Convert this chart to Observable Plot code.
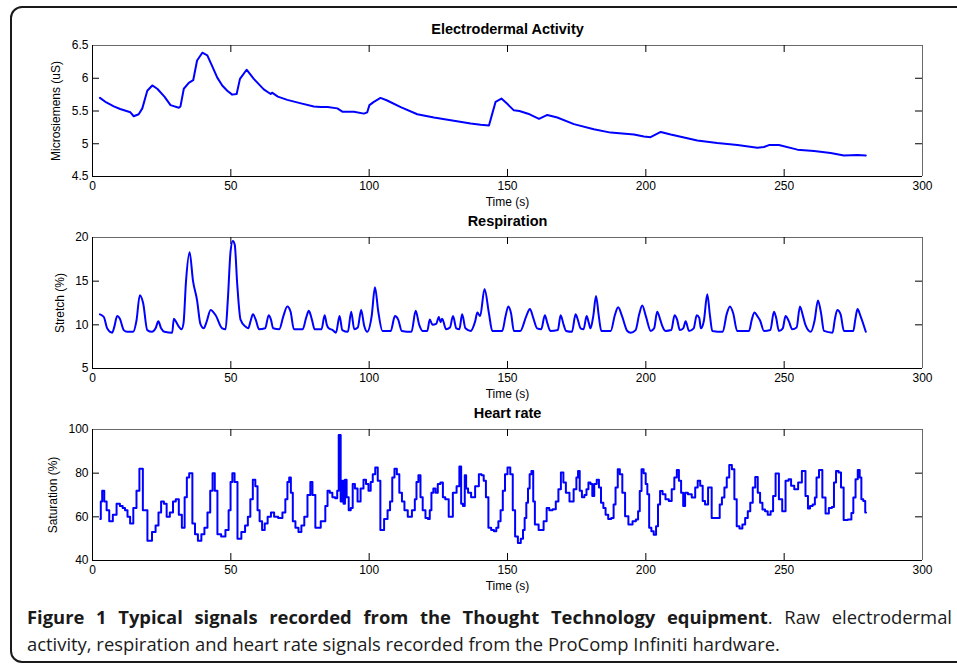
<!DOCTYPE html>
<html>
<head>
<meta charset="utf-8">
<script src="https://cdn.jsdelivr.net/npm/d3@7"></script>
<script src="https://cdn.jsdelivr.net/npm/@observablehq/plot@0.6"></script>
<style>
  html, body { margin: 0; padding: 0; background: #fff; width: 957px; height: 664px; overflow: hidden; }
  body { position: relative; }
  #frame { position: absolute; left: 10px; top: 6px; width: 970px; height: 657px; box-sizing: border-box;
           border: 2px solid #1a1a1a; border-radius: 12px; }
  .panel { position: absolute; left: 0; }
  .cap { position: absolute; left: 27px; font-family: "Open Sans", sans-serif; font-size: 18.4px;
         line-height: 27px; color: #1a1a1a; white-space: nowrap; }
  #cap1 { top: 603px; width: 925px; text-align: justify; text-align-last: justify; }
  #cap2 { top: 630px; }
  .cap b { font-weight: 700; }
</style>
</head>
<body>
<div id="frame"></div>
<div id="p1" class="panel" style="top:19px"></div>
<div id="p2" class="panel" style="top:211px"></div>
<div id="p3" class="panel" style="top:403px"></div>
<div id="cap1" class="cap"><b>Figure 1 Typical signals recorded from the Thought Technology equipment</b>. Raw electrodermal</div>
<div id="cap2" class="cap">activity, respiration and heart rate signals recorded from the ProComp Infiniti hardware.</div>
<script>
// ---------- data ----------
const xTicks = [0, 50, 100, 150, 200, 250, 300];

const edaTitle = "Electrodermal Activity";
const edaLabel = "Microsiemens (uS)";
const edaTicks = [4.5, 5, 5.5, 6, 6.5];
const edaTime = [2.7, 5, 7.7, 10, 13.7, 14.9, 16.7, 18.0, 19.8, 21.6, 23.4, 26, 28.2, 31.2, 31.8, 33.0, 34.8, 36.4, 37.8, 39.7, 41.5, 43.3, 45.1, 46.9, 48.7, 50.5, 52.1, 53.3, 55.7, 58.3, 61.9, 64.4, 64.9, 67, 70.4, 75, 80.0, 82.4, 85, 88.5, 90.3, 94.5, 98.1, 99.3, 100.1, 101.7, 104.1, 106.5, 111.4, 117.4, 123.4, 130.6, 136.7, 140.3, 143.3, 144.5, 145.7, 147.8, 149.9, 152.3, 154.3, 158, 161.4, 164.4, 168.0, 174.0, 181.2, 187.3, 195.7, 199.3, 201.7, 205.4, 209.0, 218.6, 225.8, 233.1, 240.3, 242.7, 244.5, 248.1, 254.8, 260.8, 266.8, 271.6, 276.5, 279.5];
const edaValue = [5.70, 5.63, 5.57, 5.53, 5.48, 5.42, 5.45, 5.54, 5.81, 5.89, 5.84, 5.72, 5.59, 5.55, 5.57, 5.84, 5.93, 5.97, 6.27, 6.39, 6.35, 6.18, 6.01, 5.89, 5.81, 5.75, 5.76, 5.99, 6.13, 5.99, 5.83, 5.76, 5.78, 5.72, 5.67, 5.62, 5.57, 5.56, 5.56, 5.54, 5.49, 5.49, 5.46, 5.48, 5.59, 5.64, 5.70, 5.66, 5.56, 5.45, 5.40, 5.35, 5.31, 5.29, 5.28, 5.46, 5.64, 5.69, 5.61, 5.51, 5.50, 5.45, 5.38, 5.44, 5.40, 5.30, 5.22, 5.17, 5.14, 5.11, 5.10, 5.18, 5.14, 5.05, 5.01, 4.98, 4.94, 4.95, 4.98, 4.98, 4.91, 4.89, 4.86, 4.82, 4.83, 4.82];

const respTitle = "Respiration";
const respLabel = "Stretch (%)";
const respTicks = [5, 10, 15, 20];
const respTime = [2.7, 4.1, 5.3, 7.1, 7.9, 8.9, 9.9, 11.3, 12.5, 14.7, 15.9, 17.1, 18.3, 19.8, 21.5, 22.8, 23.8, 24.8, 26, 28.8, 29.4, 30.3, 31.2, 32.2, 32.9, 33.8, 35.1, 36.3, 37.8, 39.0, 40.2, 41.2, 42.7, 44.5, 46.9, 48.1, 48.9, 49.9, 50.7, 51.4, 52.3, 53.5, 55.3, 56.3, 57.2, 58.0, 59.0, 60.2, 62.4, 63.7, 64.5, 65.3, 67.5, 69.0, 70.4, 71.6, 72.8, 76.0, 77.2, 78.2, 79.3, 80.3, 82.8, 83.9, 84.7, 85.4, 86.8, 88.0, 89.3, 90.3, 92.3, 93.5, 94.6, 95.9, 97.1, 98.2, 99.3, 100.9, 102.1, 103.3, 104.8, 107.8, 109.3, 110.5, 111.8, 115.3, 116.8, 118.1, 119.3, 121.0, 121.9, 122.9, 124.2, 125.2, 125.8, 126.4, 127.8, 129.2, 130.3, 131.5, 132.6, 133.6, 134.8, 136.7, 138.3, 139.1, 140.1, 141.7, 143.3, 144.5, 148.1, 149.3, 150.3, 151.3, 152.3, 154.6, 156.8, 158.1, 159.3, 160.7, 162.2, 163.5, 164.4, 165.5, 168.2, 169.2, 170.3, 171.2, 173.3, 174.6, 175.5, 176.4, 177.5, 178.6, 179.4, 180.0, 181.0, 182.0, 183.0, 183.9, 187.3, 188.8, 190.0, 191.4, 193.3, 194.5, 196.3, 197.6, 198.7, 200.0, 201.8, 203.0, 204.1, 205.2, 205.9, 207.1, 209.2, 210.4, 211.3, 212.3, 213.5, 214.4, 215.6, 217.3, 218.4, 219.3, 219.9, 221.0, 222.2, 223.2, 224.0, 227.8, 229.2, 230.4, 231.6, 233.0, 237.3, 238.3, 239.3, 240.3, 241.3, 242.7, 245.0, 246.3, 247.1, 248.1, 249.5, 250.5, 251.7, 252.9, 254.5, 255.7, 256.8, 257.8, 259.6, 261.0, 262.2, 263.3, 264.4, 267.5, 268.3, 269.2, 270.4, 271.6, 275.0, 275.7, 276.5, 277.6, 279.5];
const respValue = [11.2, 10.9, 9.6, 9.1, 9.8, 11.0, 10.7, 9.4, 9.2, 9.2, 10.5, 13.4, 12.5, 9.4, 9.2, 9.6, 10.4, 9.6, 9.2, 9.1, 10.7, 10.3, 9.8, 9.5, 10.2, 15.0, 18.3, 15.1, 12.8, 10.1, 9.6, 10.3, 11.7, 11.1, 9.6, 9.5, 12.8, 18.4, 19.6, 19.2, 14.7, 10.6, 9.8, 9.6, 10.5, 11.2, 10.6, 9.5, 9.6, 11.1, 10.6, 9.6, 9.5, 11.0, 12.1, 11.5, 9.5, 9.5, 10.8, 11.6, 10.6, 9.5, 9.5, 11.1, 10.0, 9.6, 9.4, 9.1, 11.0, 9.4, 9.2, 11.5, 9.5, 9.7, 11.7, 9.9, 9.2, 11.0, 14.3, 11.5, 9.3, 9.3, 11.0, 10.6, 9.3, 9.2, 11.6, 10.0, 9.3, 9.3, 10.6, 10.0, 10.1, 10.9, 10.3, 10.7, 9.5, 9.7, 11.0, 9.6, 9.5, 11.2, 9.6, 9.3, 10.4, 11.4, 11.0, 14.1, 11.3, 9.3, 9.3, 11.0, 12.1, 11.3, 9.3, 9.3, 11.0, 11.8, 10.8, 9.6, 9.5, 11.1, 10.2, 9.3, 9.4, 11.1, 10.0, 9.3, 9.2, 11.2, 10.5, 9.6, 9.5, 11.0, 10.2, 9.6, 11.0, 13.3, 11.0, 9.3, 9.3, 11.1, 12.0, 11.0, 9.3, 9.1, 9.4, 11.2, 12.2, 11.0, 9.3, 9.6, 11.5, 10.6, 9.9, 9.3, 9.4, 11.1, 10.6, 9.4, 9.6, 10.4, 9.3, 9.6, 11.1, 10.8, 9.6, 10.5, 13.5, 11.0, 9.3, 9.2, 11.2, 12.1, 11.3, 9.3, 9.3, 10.6, 11.4, 11.0, 10.5, 9.3, 9.4, 11.5, 10.8, 9.3, 9.6, 11.0, 10.4, 9.5, 9.7, 12.1, 11.0, 9.9, 9.2, 10.5, 12.8, 11.4, 9.3, 9.1, 10.6, 11.7, 11.2, 9.3, 9.3, 10.6, 11.8, 11.0, 9.2];

const hrTitle = "Heart rate";
const hrLabel = "Saturation (%)";
const hrTicks = [40, 60, 80, 100];
const hrTime = [2.8, 3.2, 3.8, 4.7, 5.5, 6.6, 8.1, 9.3, 10.5, 11.3, 12.2, 13.1, 14.1, 15.4, 16.4, 17.5, 18.9, 20.8, 22.2, 23.4, 24.3, 25.3, 26.3, 27.3, 28.6, 29.6, 30.6, 31.8, 32.8, 33.8, 34.4, 35.5, 36.7, 37.4, 38.8, 39.9, 41.0, 42.1, 43.0, 43.8, 44.6, 45.7, 47.3, 48.8, 49.6, 50.2, 50.9, 51.8, 53.0, 54.6, 55.7, 56.6, 57.5, 58.4, 59.3, 60.0, 60.8, 61.8, 62.7, 63.9, 65.1, 66.2, 68.0, 69.3, 70.1, 70.8, 71.4, 72.0, 72.8, 73.9, 75.0, 76.0, 77.1, 78.3, 79.2, 79.8, 81.3, 83.7, 84.6, 85.3, 86.2, 87.2, 88.2, 88.7, 89.3, 90.1, 90.5, 91.0, 91.5, 92.2, 93.0, 93.7, 94.4, 95.3, 96.3, 97.5, 98.4, 99.3, 100.2, 100.9, 101.7, 102.7, 103.5, 104.6, 106.2, 107.1, 108.0, 108.7, 109.6, 110.4, 111.4, 112.3, 113.2, 114.7, 116.2, 116.8, 117.4, 118.2, 118.9, 119.8, 120.9, 121.6, 122.2, 122.8, 123.6, 124.4, 125.2, 126.3, 127.0, 128.0, 129.5, 131.0, 132.2, 133.0, 133.5, 134.3, 134.8, 135.3, 136.2, 137.5, 139.1, 140.2, 141.0, 141.8, 142.6, 143.6, 144.6, 145.6, 146.3, 147.1, 147.9, 148.7, 149.5, 150.5, 151.5, 152.3, 153.2, 154.3, 155.3, 155.9, 156.5, 157.1, 157.7, 158.3, 159.0, 159.6, 160.2, 162.3, 163.8, 164.5, 165.7, 166.9, 168.0, 168.8, 169.8, 170.6, 171.6, 173.2, 174.6, 175.2, 175.8, 176.4, 177.4, 178.2, 178.9, 179.6, 180.4, 180.9, 181.8, 182.7, 183.4, 184.2, 185.1, 185.8, 187.0, 188.0, 188.7, 189.4, 190.3, 190.9, 192.1, 192.9, 194.5, 195.9, 196.9, 197.5, 198.1, 198.8, 199.6, 200.3, 200.8, 201.6, 202.4, 203.3, 204.1, 204.7, 205.6, 206.5, 207.7, 208.9, 209.8, 210.8, 211.6, 212.3, 213.2, 213.8, 214.6, 215.8, 217.4, 218.3, 219.2, 220.1, 221.0, 221.8, 223.2, 224.4, 226.4, 227.0, 228.0, 228.8, 229.7, 230.6, 231.6, 232.4, 233.3, 234.4, 235.4, 236.4, 237.3, 238.2, 239.1, 240.0, 240.9, 241.7, 242.6, 243.6, 244.5, 245.7, 246.3, 247.5, 248.7, 249.9, 251.1, 252.1, 252.9, 254.4, 255.7, 257.1, 258.3, 258.9, 259.8, 260.8, 261.4, 262.0, 263.2, 264.4, 265.5, 266.8, 267.7, 268.3, 269.2, 270.1, 271.0, 272.0, 274.0, 274.6, 275.4, 276.2, 277.0, 277.6, 278.2, 279.0, 279.6];
const hrValue = [59, 67, 72, 67, 63, 58, 61, 66, 65, 64, 63, 60, 57, 64, 72, 82, 63, 49, 53, 56, 62, 67, 66, 60, 62, 67, 68, 61, 55, 69, 78, 80, 57, 52, 49, 52, 55, 62, 72, 80, 72, 52, 51, 54, 63, 76, 80, 76, 50, 53, 56, 60, 68, 77, 74, 63, 58, 54, 57, 60, 62, 60, 59.5, 62, 68, 76, 78, 71, 58, 55, 53, 56, 60, 70, 76, 70, 55, 58, 65, 72, 71, 69, 68.5, 72, 97.5, 67, 76.5, 66, 77, 69, 63, 64, 75, 73, 67, 73, 77, 75, 72, 76, 79.5, 82.6, 76.5, 54, 59, 63, 67, 78, 82, 79.5, 71, 67, 63, 60, 63, 68, 76, 79, 69, 63, 59.5, 59, 63, 71, 73, 71, 75, 75.7, 69, 68, 60, 71, 74, 83, 66, 65, 79, 73, 71, 69, 74, 79.5, 79, 76.5, 69, 55, 54, 53.4, 55, 58, 63, 72, 79.5, 82.6, 79.5, 63, 51, 48, 50, 54, 59.5, 66.5, 73, 79.5, 81, 67, 56.5, 54, 58, 64, 63, 63.5, 67, 72.6, 80.3, 75.7, 71, 67, 72.6, 78, 81, 72, 69, 70, 72.6, 75.7, 75, 69.5, 75, 77, 73.4, 66.5, 64, 61, 59, 59.5, 65.7, 73.4, 81.8, 79.5, 71, 60.3, 56.5, 58, 58.8, 62.6, 71.8, 81.8, 80, 75, 70.3, 55, 53.4, 51.8, 55.7, 65.7, 71.8, 70.3, 68, 67.2, 72.6, 78, 81.4, 76.5, 71, 65, 71, 70.3, 68.8, 73.4, 76.5, 74.2, 67.2, 65.7, 73.4, 59.5, 59.5, 65.7, 68.8, 73.4, 78, 83.7, 81.8, 68, 55.7, 54.6, 56.5, 59.5, 62.6, 66.5, 73.4, 78.3, 71, 66.5, 63.4, 62.6, 61, 62.6, 69.5, 79.8, 68, 62.6, 76.5, 77.2, 74.2, 72.6, 75.7, 81, 69.5, 63.8, 65, 65.7, 68.8, 78, 81.4, 68.8, 61.5, 64, 64.5, 75.7, 81, 80.3, 73.4, 58.5, 58.8, 61.8, 68.8, 77.2, 81.4, 78, 68, 67.2, 62];

// ---------- drawing ----------
const FW = 830, FH = 131;
function panel(el, time, value, yDomain, yTicks, title, yLabel, yLabelDx, curve) {
  const data = time.map((t, i) => ({t, v: value[i]}));
  const yMid = (yDomain[0] + yDomain[1]) / 2;
  const svg = Plot.plot({
    width: 957, height: 26 + FH + 32,
    marginLeft: 92, marginRight: 35, marginTop: 26, marginBottom: 32,
    x: {domain: [0, 300], axis: null},
    y: {domain: yDomain, axis: null},
    style: {background: "transparent", fontFamily: "'Liberation Sans', Arial, sans-serif", fontSize: "12px", color: "#000", overflow: "visible"},
    marks: [
      Plot.ruleY([yDomain[1]], {stroke: "#6a6a6a"}),
      Plot.ruleX([300], {stroke: "#6a6a6a"}),
      Plot.ruleY([yDomain[0]], {stroke: "#000"}),
      Plot.ruleX([0], {stroke: "#000"}),
      Plot.tickX(xTicks.slice(1, -1), {x: d => d, insetTop: FH - 7, stroke: "#000"}),
      Plot.tickX(xTicks.slice(1, -1), {x: d => d, insetBottom: FH - 7, stroke: "#000"}),
      Plot.tickY(yTicks.slice(1, -1), {y: d => d, insetRight: FW - 7, stroke: "#000"}),
      Plot.tickY(yTicks.slice(1, -1), {y: d => d, insetLeft: FW - 7, stroke: "#000"}),
      Plot.line(data, {x: "t", y: "v", stroke: "#0000ff", strokeWidth: 2, curve}),
      Plot.text(xTicks, {x: d => d, frameAnchor: "bottom", lineAnchor: "middle", dy: 10, text: d => String(d), fill: "#000"}),
      Plot.text(yTicks, {y: d => d, frameAnchor: "left", lineAnchor: "middle", dx: -4, textAnchor: "end", text: d => String(d), fill: "#000"}),
      Plot.text(["Time (s)"], {frameAnchor: "bottom", lineAnchor: "middle", dy: 26, text: d => d, fill: "#000"}),
      Plot.text([title], {frameAnchor: "top", lineAnchor: "middle", dy: -16, text: d => d, fontWeight: "bold", fontSize: 14.5, fill: "#000"}),
      Plot.text([yLabel], {x: () => 0, y: () => yMid, lineAnchor: "middle", dx: yLabelDx, rotate: -90, text: d => d, fill: "#000"})
    ]
  });
  document.getElementById(el).appendChild(svg);
}

panel("p1", edaTime, edaValue, [4.5, 6.5], edaTicks, edaTitle, edaLabel, -36, "linear");
panel("p2", respTime, respValue, [5, 20], respTicks, respTitle, respLabel, -32, "monotone-x");
panel("p3", hrTime, hrValue, [40, 100], hrTicks, hrTitle, hrLabel, -39, "step");
</script>
</body>
</html>
